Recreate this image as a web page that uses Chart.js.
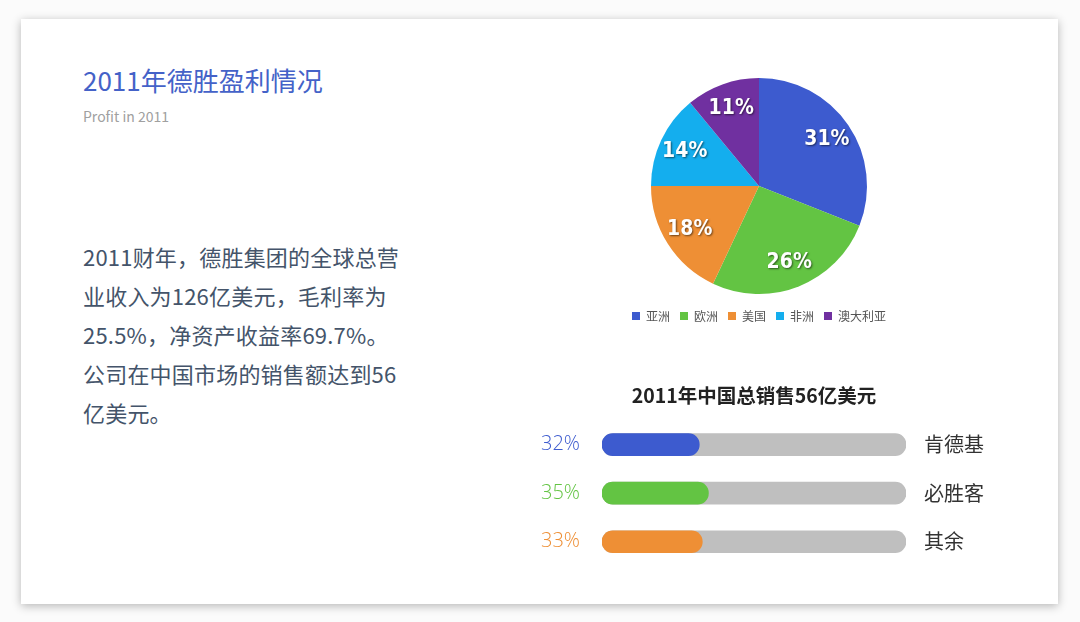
<!DOCTYPE html>
<html>
<head>
<meta charset="utf-8">
<script src="https://cdn.jsdelivr.net/npm/chart.js@4"></script>
<style>
  body { margin: 0; width: 1080px; height: 622px; background: #fbfbfb; font-family: "Noto Sans CJK SC", "Noto Sans", sans-serif; overflow: hidden; }
  .card { position: absolute; left: 21px; top: 19px; width: 1037px; height: 585px; background: #fff; box-shadow: 0 2px 9px rgba(0,0,0,0.28); }
  .title { position: absolute; left: 83px; top: 62px; font-size: 26px; color: #4462c8; line-height: 36px; }
  .sub { position: absolute; left: 83px; top: 106px; font-size: 14px; color: #a0a0a0; }
  .para { position: absolute; left: 83px; top: 237px; font-size: 22px; line-height: 39px; color: #44546a; letter-spacing: 0.2px; }
  #pieWrap { position: absolute; left: 619px; top: 72px; width: 280px; height: 260px; }
  #barWrap { position: absolute; left: 530px; top: 376px; width: 470px; height: 190px; }
</style>
</head>
<body>
<div class="card"></div>
<div class="title">2011年德胜盈利情况</div>
<div class="sub">Profit in 2011</div>
<div class="para">2011财年，德胜集团的全球总营<br>业收入为126亿美元，毛利率为<br>25.5%，净资产收益率69.7%。<br>公司在中国市场的销售额达到56<br>亿美元。</div>
<div id="pieWrap"><canvas id="pie"></canvas></div>
<div id="barWrap"><canvas id="bar"></canvas></div>
<script>
// pie data
const regions = ['亚洲', '欧洲', '美国', '非洲', '澳大利亚'];
const regionShare = [31, 26, 18, 14, 11];
const regionColors = ['#3d5bcf', '#63c443', '#ee8f35', '#14aeee', '#7030a0'];

// sales bars
const brands = ['肯德基', '必胜客', '其余'];
const brandShare = [32, 35, 33];
const brandColors = ['#3d5bcf', '#63c443', '#ee8f35'];
const trackMax = [100, 100, 100];

// labels on the slices
const sliceLabels = {
  id: 'sliceLabels',
  afterDatasetsDraw(chart) {
    const ctx = chart.ctx;
    const meta = chart.getDatasetMeta(0);
    ctx.save();
    ctx.font = 'bold 21px "Liberation Sans Narrow", "DejaVu Sans Condensed", sans-serif';
    ctx.textAlign = 'center';
    ctx.textBaseline = 'middle';
    ctx.fillStyle = '#fff';
    ctx.shadowColor = 'rgba(0,0,0,0.55)';
    ctx.shadowOffsetX = 1;
    ctx.shadowOffsetY = 1;
    ctx.shadowBlur = 2;
    meta.data.forEach((arc, i) => {
      const p = arc.getProps(['x', 'y', 'startAngle', 'endAngle', 'outerRadius'], true);
      const a = (p.startAngle + p.endAngle) / 2;
      const r = p.outerRadius * 0.76;
      ctx.fillText(regionShare[i] + '%', p.x + Math.cos(a) * r, p.y + Math.sin(a) * r);
    });
    ctx.restore();
  }
};

new Chart(document.getElementById('pie'), {
  type: 'pie',
  data: {
    labels: regions,
    datasets: [{ data: regionShare, backgroundColor: regionColors, borderWidth: 0 }]
  },
  options: {
    responsive: true,
    maintainAspectRatio: false,
    animation: false,
    radius: 108,
    layout: { padding: 0 },
    plugins: {
      tooltip: { enabled: false },
      legend: {
        position: 'bottom',
        labels: { boxWidth: 8, boxHeight: 8, padding: 10, color: '#555',
          font: { size: 12, family: '"Noto Sans CJK SC", sans-serif' } }
      }
    }
  },
  plugins: [sliceLabels]
});

// keep the tick labels from padding the chart area
const noPad = (w) => (s) => { s.width = w; s.paddingTop = 0; s.paddingBottom = 0; };

new Chart(document.getElementById('bar'), {
  type: 'bar',
  data: {
    labels: brands,
    datasets: [
      { data: brandShare, backgroundColor: brandColors, barThickness: 22, borderRadius: 11, borderSkipped: false, grouped: false },
      { data: trackMax, backgroundColor: '#bfbfbf', barThickness: 22, borderRadius: 11, borderSkipped: false, grouped: false }
    ]
  },
  options: {
    indexAxis: 'y',
    responsive: true,
    maintainAspectRatio: false,
    animation: false,
    layout: { padding: 0, autoPadding: false },
    scales: {
      x: { min: 0, max: 100, display: false },
      y: {
        grid: { display: false, drawTicks: false }, border: { display: false },
        afterFit: noPad(72),
        ticks: {
          padding: 22,
          callback: (v, i) => brandShare[i] + '%',
          color: (c) => brandColors[c.index],
          font: { size: 20, weight: 300, family: '"Open Sans", sans-serif' }
        }
      },
      y2: {
        type: 'category', labels: brands, position: 'right',
        grid: { display: false, drawTicks: false }, border: { display: false },
        afterFit: noPad(94),
        ticks: { padding: 18, color: '#333', font: { size: 20, family: '"Noto Sans CJK SC", sans-serif' } }
      }
    },
    plugins: {
      legend: { display: false },
      tooltip: { enabled: false },
      title: {
        display: true,
        fullSize: false,
        text: '2011年中国总销售56亿美元',
        color: '#222',
        font: { size: 19.5, weight: 'bold', family: '"Noto Sans CJK SC", sans-serif' },
        padding: { top: 8, bottom: 13 }
      }
    }
  }
});
</script>
</body>
</html>
